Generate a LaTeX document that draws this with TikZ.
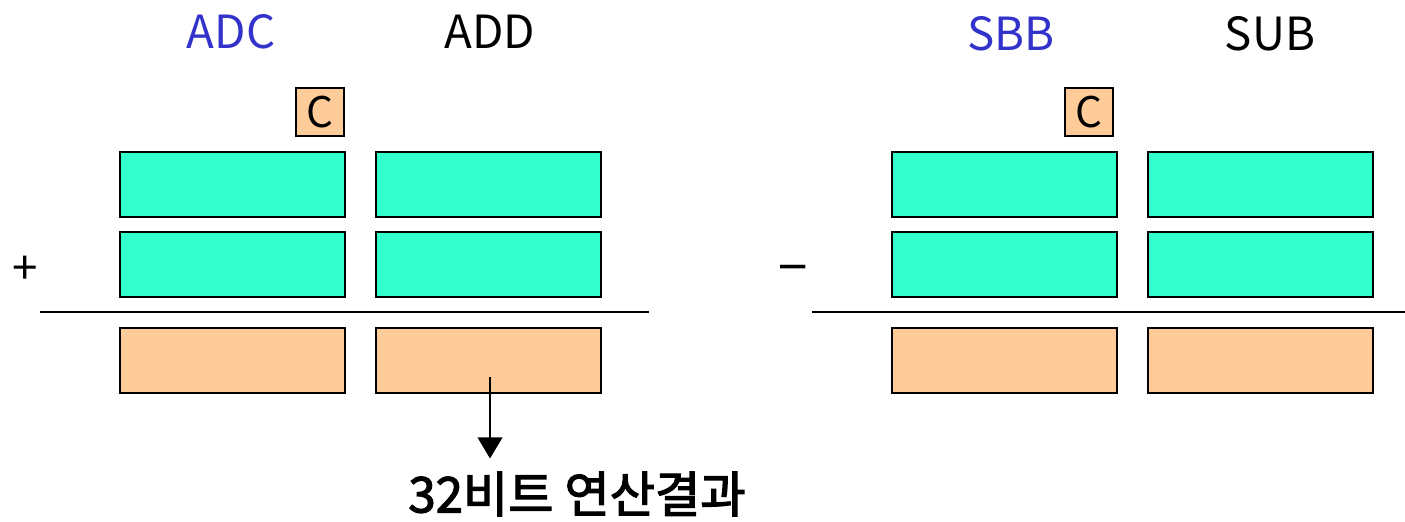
\documentclass[tikz,border=0pt]{standalone}
\usepackage{fontspec}
\setmainfont{Noto Sans CJK KR}
\newfontfamily\resultfont[FakeBold=2.5]{Noto Sans CJK KR}
\usepackage{xcolor}
\usetikzlibrary{arrows.meta}
\definecolor{regfill}{HTML}{33FFCC}
\definecolor{resfill}{HTML}{FFCC99}
\definecolor{opblue}{HTML}{3333CC}
\tikzset{
  reg/.style={draw=black, line width=1.1pt, fill=regfill, minimum width=4.5cm, minimum height=1.3cm, inner sep=0pt},
  res/.style={reg, fill=resfill},
  carry/.style={draw=black, line width=1pt, fill=resfill, minimum width=0.96cm, minimum height=0.96cm, inner sep=0pt, font=\fontsize{24}{26}\selectfont},
  op/.style={font=\fontsize{26}{30}\selectfont},
}
\begin{document}
\begin{tikzpicture}[x=0.02cm, y=-0.02cm]
        	\useasboundingbox (0,0) rectangle (1405,521);
        	% addition
        	\node[op, text=opblue] (ADC) at (231,32) {ADC};
        	\node[op] (ADD) at (490,32) {ADD};
        	\node[carry] (C1) at (320,112) {C};
        	\node[reg] (A1) at (232.5,184.5) {};
        	\node[reg] (A2) at (488.5,184.5) {};
        	\node[reg] (B1) at (232.5,264.5) {};
        	\node[reg] (B2) at (488.5,264.5) {};
        	\node[op] (P) at (25,270) {+};
        	\draw[black, line width=1.6pt] (40,312) -- (649,312);
        	\node[res] (R1) at (232.5,360.5) {};
        	\node[res] (R2) at (488.5,360.5) {};
        	\node[font=\fontsize{28}{32}\selectfont\resultfont] (T) at (577,494) {32비트 연산결과};
        	\coordinate (O) at (490,377);
        	\draw[line width=1.1pt, -{Triangle[width=14pt, length=12pt]}, shorten >=0.14cm] (O) -- (O |- T.north);
        	% subtraction
        	\node[op, text=opblue] (SBB) at (1011,34) {SBB};
        	\node[op] (SUB) at (1270,34) {SUB};
        	\node[carry] (C2) at (1089,112) {C};
        	\node[reg] (D1) at (1004.5,184.5) {};
        	\node[reg] (D2) at (1260.5,184.5) {};
        	\node[reg] (E1) at (1004.5,264.5) {};
        	\node[reg] (E2) at (1260.5,264.5) {};
        	\node[op, font=\fontsize{30}{32}\selectfont] (M) at (793,276) {−};
        	\draw[black, line width=1.6pt] (812,312) -- (1405,312);
        	\node[res] (S1) at (1004.5,360.5) {};
        	\node[res] (S2) at (1260.5,360.5) {};
\end{tikzpicture}
\end{document}
